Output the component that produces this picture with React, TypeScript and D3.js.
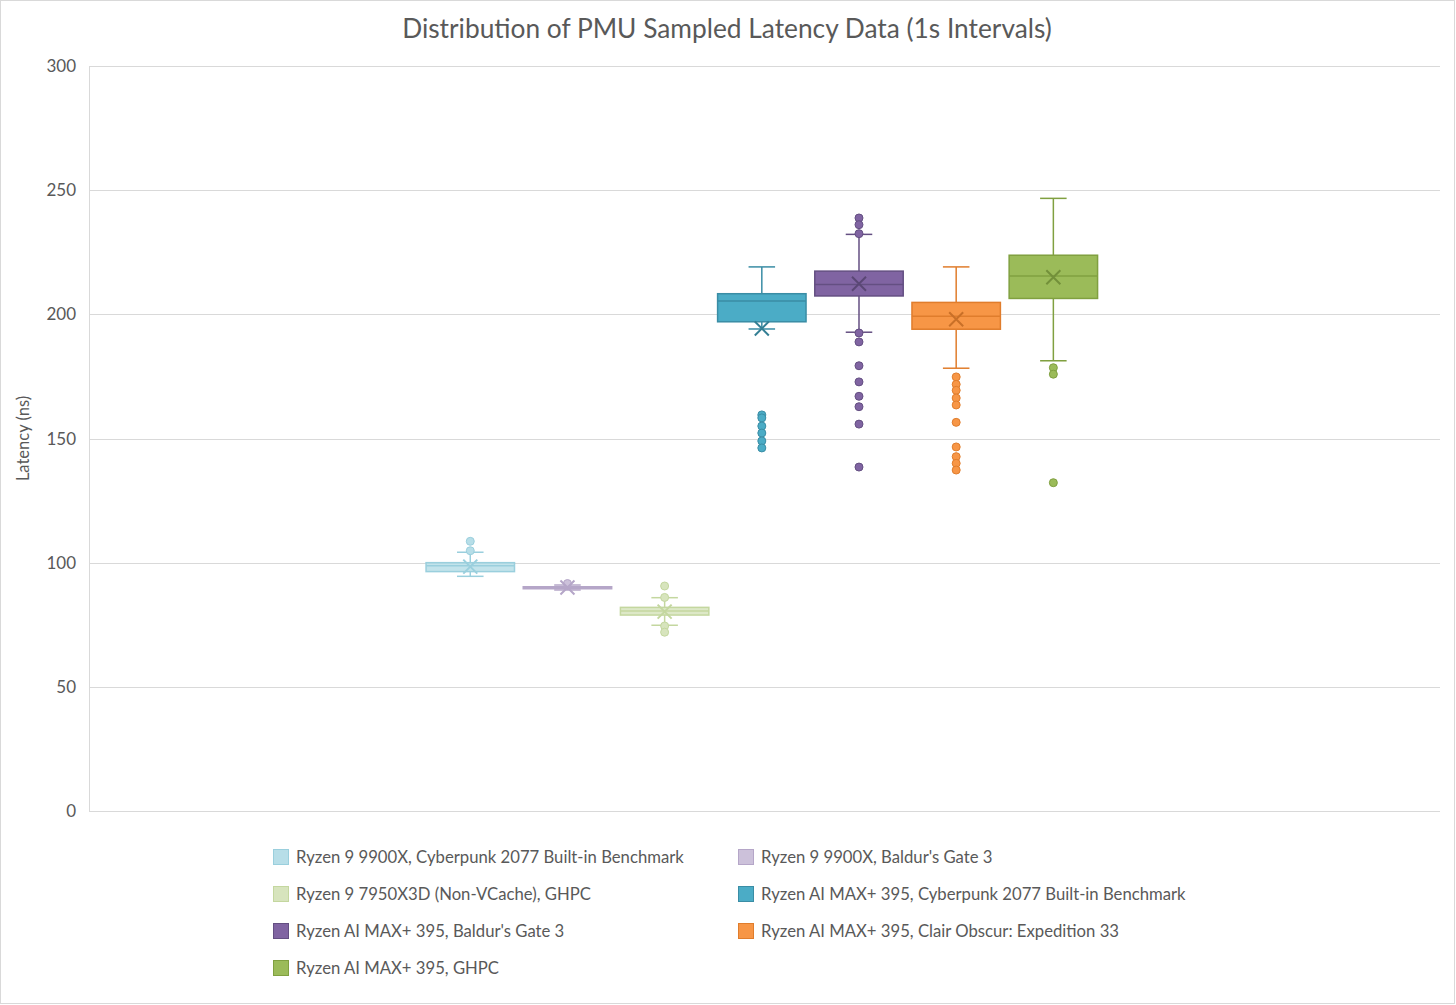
import * as d3 from "d3";
import { useEffect, useRef } from "react";

const seriesNames = [
  "Ryzen 9 9900X, Cyberpunk 2077 Built-in Benchmark",
  "Ryzen 9 9900X, Baldur's Gate 3",
  "Ryzen 9 7950X3D (Non-VCache), GHPC",
  "Ryzen AI MAX+ 395, Cyberpunk 2077 Built-in Benchmark",
  "Ryzen AI MAX+ 395, Baldur's Gate 3",
  "Ryzen AI MAX+ 395, Clair Obscur: Expedition 33",
  "Ryzen AI MAX+ 395, GHPC",
];

// box plot statistics (ns)
const q1Values = [96.4, 89.5, 78.9, 197.0, 207.4, 194.0, 206.4];
const medianValues = [98.8, 89.9, 80.5, 205.4, 212.0, 199.2, 215.4];
const q3Values = [100.0, 90.3, 82.0, 208.3, 217.4, 204.8, 223.8];
const lowWhisker = [94.5, 89.0, 74.8, 194.1, 192.8, 178.3, 181.3];
const highWhisker = [104.2, 91.0, 85.9, 219.1, 232.2, 219.1, 246.7];
const meanValues = [98.4, 90.0, 80.3, 194.3, 212.3, 198.0, 214.9];
const outlierValues = [
  [108.6, 104.8],
  [91.6],
  [90.6, 86.0, 74.5, 72.0],
  [159.5, 158.3, 155.0, 152.2, 149.0, 146.2],
  [238.8, 236.1, 232.5, 192.5, 188.9, 179.3, 172.8, 167.0, 162.8, 155.8, 138.5],
  [174.8, 171.8, 169.4, 166.3, 163.5, 156.5, 146.6, 142.7, 140.0, 137.3],
  [178.5, 175.9, 132.2],
];
const yTicks = [0, 50, 100, 150, 200, 250, 300];

const fills = ["#B7DEE8", "#CCC1DA", "#D7E4BD", "#4BACC6", "#8064A2", "#F79646", "#9BBB59"];
const strokes = ["#9ACFDD", "#B5A6C8", "#C4D79F", "#3A8DA5", "#644F82", "#E07D2C", "#80A040"];

const W = 1456;
const H = 1005;
const FONT = "Lato, 'Noto Sans', sans-serif";

function App() {
  const ref = useRef<SVGSVGElement | null>(null);

  useEffect(() => {
    const svg = d3.select(ref.current);
    svg.selectAll("*").remove();

    const plot = { left: 89, right: 1440, top: 66, bottom: 811 };

    svg.append("rect")
      .attr("x", 0.5).attr("y", 0.5)
      .attr("width", W - 2).attr("height", H - 2)
      .attr("fill", "#fff").attr("stroke", "#D9D9D9");

    const y = d3.scaleLinear().domain([0, 300]).range([plot.bottom, plot.top]);

    // one category, seven series side by side
    const xCat = d3.scaleBand<string>()
      .domain(["all"])
      .range([plot.left, plot.right])
      .paddingOuter(0.493)
      .align(0.496);
    const x0 = xCat("all") as number;
    const xSeries = d3.scaleBand<string>()
      .domain(seriesNames)
      .range([x0, x0 + xCat.bandwidth()])
      .paddingInner(0.09)
      .paddingOuter(0.045);

    // gridlines
    svg.append("g")
      .selectAll("line")
      .data(yTicks)
      .join("line")
      .attr("x1", plot.left).attr("x2", plot.right)
      .attr("y1", (d) => Math.round(y(d)) + 0.5)
      .attr("y2", (d) => Math.round(y(d)) + 0.5)
      .attr("stroke", "#D9D9D9");

    svg.append("line")
      .attr("x1", plot.left + 0.5).attr("x2", plot.left + 0.5)
      .attr("y1", plot.top).attr("y2", plot.bottom)
      .attr("stroke", "#D9D9D9");

    svg.append("g")
      .selectAll("text")
      .data(yTicks)
      .join("text")
      .attr("x", 76)
      .attr("y", (d) => y(d))
      .attr("dy", "0.36em")
      .attr("text-anchor", "end")
      .attr("font-family", FONT)
      .attr("font-size", 17)
      .attr("fill", "#595959")
      .text((d) => d);

    svg.append("text")
      .attr("transform", "translate(29," + (plot.top + plot.bottom) / 2 + ") rotate(-90)")
      .attr("text-anchor", "middle")
      .attr("font-family", FONT)
      .attr("font-size", 16.5)
      .attr("fill", "#595959")
      .text("Latency (ns)");

    svg.append("text")
      .attr("x", 727)
      .attr("y", 38)
      .attr("text-anchor", "middle")
      .attr("font-family", FONT)
      .attr("font-size", 26.3)
      .attr("fill", "#595959")
      .text("Distribution of PMU Sampled Latency Data (1s Intervals)");

    const bw = xSeries.bandwidth();
    const cap = bw * 0.3;

    seriesNames.forEach((name, i) => {
      const g = svg.append("g");
      const xl = xSeries(name) as number;
      const cx = xl + bw / 2;
      const light = i < 3;

      // whiskers
      g.append("line")
        .attr("x1", cx).attr("x2", cx)
        .attr("y1", y(highWhisker[i])).attr("y2", y(q3Values[i]))
        .attr("stroke", strokes[i]).attr("stroke-width", 1.5);
      g.append("line")
        .attr("x1", cx).attr("x2", cx)
        .attr("y1", y(q1Values[i])).attr("y2", y(lowWhisker[i]))
        .attr("stroke", strokes[i]).attr("stroke-width", 1.5);
      [highWhisker[i], lowWhisker[i]].forEach((v) => {
        g.append("line")
          .attr("x1", cx - cap / 2).attr("x2", cx + cap / 2)
          .attr("y1", y(v)).attr("y2", y(v))
          .attr("stroke", strokes[i]).attr("stroke-width", 1.5);
      });

      // box
      g.append("rect")
        .attr("x", xl)
        .attr("y", y(q3Values[i]))
        .attr("width", bw)
        .attr("height", Math.max(1.5, y(q1Values[i]) - y(q3Values[i])))
        .attr("fill", fills[i])
        .attr("fill-opacity", light ? 0.85 : 1)
        .attr("stroke", strokes[i])
        .attr("stroke-width", 1.5);

      g.append("line")
        .attr("x1", xl).attr("x2", xl + bw)
        .attr("y1", y(medianValues[i])).attr("y2", y(medianValues[i]))
        .attr("stroke", strokes[i]).attr("stroke-width", 1.5);

      // outliers
      g.selectAll("circle")
        .data(outlierValues[i])
        .join("circle")
        .attr("cx", cx)
        .attr("cy", (d) => y(d))
        .attr("r", 4)
        .attr("fill", fills[i])
        .attr("stroke", strokes[i])
        .attr("stroke-width", 1);

      // mean marker
      const m = y(meanValues[i]);
      const s = 7;
      g.append("path")
        .attr("d", `M${cx - s},${m - s}L${cx + s},${m + s}M${cx - s},${m + s}L${cx + s},${m - s}`)
        .attr("stroke", light ? strokes[i] : d3.color(strokes[i])!.darker(0.3).formatHex())
        .attr("stroke-width", 2)
        .attr("fill", "none");
    });

    // legend, two columns
    const legendCols = [273, 738];
    const legendRow0 = 857;
    const legendStep = 37;
    const lg = svg.append("g")
      .selectAll("g")
      .data(seriesNames)
      .join("g")
      .attr("transform", (_, i) =>
        "translate(" + legendCols[i % 2] + "," + (legendRow0 + Math.floor(i / 2) * legendStep) + ")");
    lg.append("rect")
      .attr("x", 0.5).attr("y", -7.5)
      .attr("width", 15).attr("height", 15)
      .attr("fill", (_, i) => fills[i])
      .attr("stroke", (_, i) => strokes[i]);
    lg.append("text")
      .attr("x", 23)
      .attr("y", 0)
      .attr("dy", "0.35em")
      .attr("font-family", FONT)
      .attr("font-size", 16.7)
      .attr("fill", "#595959")
      .text((d) => d);
  }, []);

  return (
    <svg
      ref={ref}
      width={W}
      height={H}
      style={{ position: "absolute", left: 0, top: 0 }}
    ></svg>
  );
}

export default App;
